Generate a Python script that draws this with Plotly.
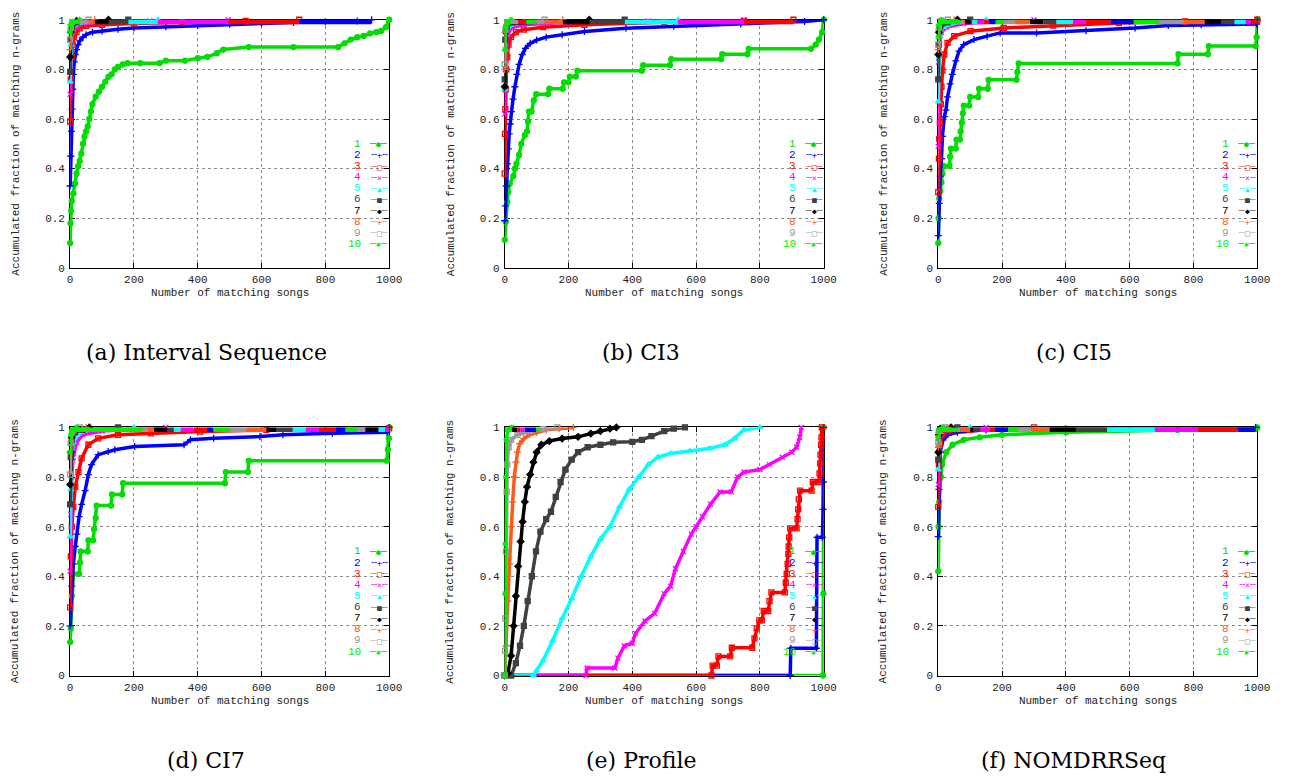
import plotly.graph_objects as go

# ---------------------------------------------------------------- metadata
SERIES = ["1", "2", "3", "4", "5", "6", "7", "8", "9", "10"]
COLORS = ["#00dd00", "#0000ff", "#ff0000", "#ff00ff", "#00ffff",
          "#404040", "#000000", "#ff5a1a", "#999999", "#00ee00"]
SYMBOLS = ["circle", "cross-thin", "square-open", "x-thin", "triangle-up",
           "square", "diamond", "cross-thin", "square-open", "asterisk"]
LEGEND_GLYPHS = ["●", "+", "□", "×", "▲", "■", "◆", "+", "□", "✱"]
LEGEND_DASH = ["─", "╌", "┈", "╌", "╌", "┈", "┈", "┈", "┈", "─"]

X_TICKS = [0, 200, 400, 600, 800, 1000]
X_TICK_TEXT = ["0", "200", "400", "600", "800", "1000"]
Y_TICKS = [0, 0.2, 0.4, 0.6, 0.8, 1.0]
Y_TICK_TEXT = ["0", "0.2", "0.4", "0.6", "0.8", "1"]
X_TITLE = "Number of matching songs"
Y_TITLE = "Accumulated fraction of matching n-grams"
CAPTIONS = ["(a) Interval Sequence", "(b) CI3", "(c) CI5",
            "(d) CI7", "(e) Profile", "(f) NOMDRRSeq"]
BAND_LEVEL = 1.0

# ---------------------------------------------------------------- (a) Interval Sequence
A_X = [
    [0, 1, 3, 5, 10, 15, 20, 25, 30, 35, 40, 45, 50, 55, 60, 65, 70, 80, 90, 100, 110, 120, 130, 140, 150,
     165, 180, 220, 280, 300, 360, 400, 430, 460, 480, 560, 700, 840, 860, 880, 900, 920, 940, 960, 975, 990, 1000],
    [0, 2, 4, 6, 8, 10, 13, 16, 20, 25, 30, 40, 50, 70, 100, 150, 200, 300, 400, 500, 600, 700, 800, 900, 945],
    [0, 2, 5, 8, 12, 20, 30, 50, 100, 200, 350, 550, 718],
    [0, 2, 5, 10, 20, 40, 100, 250, 496],
    [0, 2, 5, 15, 40, 275],
    [0, 2, 6, 20, 182],
    [0, 2, 6, 20, 120],
    [0, 2, 8, 77],
    [0, 2, 6, 58],
    [0, 2, 30],
]
A_Y = [
    [0.10, 0.18, 0.23, 0.27, 0.30, 0.34, 0.38, 0.41, 0.43, 0.46, 0.50, 0.53, 0.55, 0.57, 0.60, 0.63, 0.66, 0.69,
     0.71, 0.73, 0.75, 0.77, 0.78, 0.80, 0.81, 0.82, 0.825, 0.825, 0.825, 0.835, 0.835, 0.845, 0.85, 0.865, 0.88,
     0.89, 0.89, 0.89, 0.905, 0.92, 0.93, 0.935, 0.945, 0.95, 0.955, 0.97, 1.0],
    [0.33, 0.45, 0.55, 0.64, 0.72, 0.78, 0.83, 0.86, 0.88, 0.90, 0.915, 0.93, 0.94, 0.95, 0.955, 0.962, 0.967,
     0.972, 0.977, 0.982, 0.986, 0.989, 0.992, 0.995, 1.0],
    [0.59, 0.76, 0.85, 0.90, 0.93, 0.95, 0.965, 0.975, 0.98, 0.985, 0.99, 0.995, 1.0],
    [0.70, 0.85, 0.93, 0.96, 0.975, 0.985, 0.99, 0.995, 1.0],
    [0.75, 0.90, 0.95, 0.98, 0.99, 1.0],
    [0.79, 0.92, 0.97, 0.99, 1.0],
    [0.85, 0.95, 0.98, 0.995, 1.0],
    [0.88, 0.96, 0.99, 1.0],
    [0.92, 0.97, 0.99, 1.0],
    [0.95, 0.98, 1.0],
]
A_BAND = [[], [[718, 945]], [[496, 718]], [[275, 496]], [[182, 275]], [[120, 182]],
          [[77, 120]], [[58, 77]], [[30, 58]], [[0, 30]]]

# ---------------------------------------------------------------- (b) CI3
B_X = [
    [0, 3, 8, 11, 16, 27, 32, 37, 45, 52, 63, 70, 73, 76, 84, 91, 99, 136, 140, 182, 186, 200, 204, 223, 228,
     430, 434, 518, 522, 678, 682, 761, 765, 960, 975, 985, 995, 1000],
    [0, 2, 5, 8, 11, 14, 17, 21, 26, 32, 38, 45, 55, 65, 80, 100, 130, 180, 250, 380, 530, 740, 940, 1000],
    [0, 1, 2, 3, 5, 8, 12, 20, 35, 60, 120, 250, 500, 750, 905],
    [0, 2, 5, 12, 25, 60, 200, 450, 750],
    [0, 2, 6, 20, 60, 543],
    [0, 2, 6, 25, 376],
    [0, 3, 10, 265],
    [0, 2, 10, 182],
    [0, 2, 8, 125],
    [0, 2, 20],
]
B_Y = [
    [0.113, 0.185, 0.265, 0.305, 0.34, 0.37, 0.40, 0.42, 0.455, 0.50, 0.535, 0.55, 0.59, 0.63, 0.63, 0.675,
     0.70, 0.70, 0.722, 0.722, 0.748, 0.748, 0.771, 0.771, 0.795, 0.795, 0.817, 0.817, 0.841, 0.841, 0.861,
     0.861, 0.883, 0.883, 0.90, 0.92, 0.95, 1.0],
    [0.19, 0.25, 0.33, 0.42, 0.48, 0.54, 0.58, 0.63, 0.68, 0.73, 0.78, 0.82, 0.86, 0.885, 0.905, 0.918, 0.93,
     0.94, 0.953, 0.966, 0.974, 0.983, 0.993, 1.0],
    [0.38, 0.54, 0.64, 0.72, 0.80, 0.85, 0.90, 0.93, 0.95, 0.96, 0.97, 0.98, 0.99, 0.995, 1.0],
    [0.62, 0.80, 0.90, 0.95, 0.97, 0.98, 0.99, 0.995, 1.0],
    [0.72, 0.88, 0.95, 0.98, 0.99, 1.0],
    [0.76, 0.92, 0.97, 0.99, 1.0],
    [0.73, 0.95, 0.985, 1.0],
    [0.80, 0.95, 0.99, 1.0],
    [0.82, 0.96, 0.99, 1.0],
    [0.88, 0.97, 1.0],
]
B_BAND = [[], [], [[42, 68], [750, 905]], [[543, 750]], [[376, 543]], [[265, 376]],
          [[182, 265]], [[125, 182]], [[20, 42], [99, 125]], [[0, 20], [68, 99]]]

# ---------------------------------------------------------------- (c) CI5
C_X = [
    [0, 1, 3, 6, 10, 13, 16, 35, 37, 40, 55, 57, 68, 70, 74, 77, 80, 97, 100, 125, 128, 155, 158, 245, 248,
     252, 750, 753, 845, 848, 995, 998, 1000],
    [0, 3, 6, 10, 13, 19, 24, 29, 37, 44, 55, 65, 80, 112, 153, 194, 308, 463, 617, 721, 824, 998, 1000],
    [0, 2, 3, 5, 8, 10, 13, 19, 29, 50, 101, 205, 360, 566, 773, 1000],
    [0, 1, 4, 10, 25, 80, 300],
    [0, 2, 5, 15, 60, 150],
    [0, 2, 6, 30, 100],
    [0, 2, 10, 60],
    [0, 2, 10, 50],
    [0, 2, 10, 30],
    [0, 2, 10],
]
C_Y = [
    [0.10, 0.20, 0.28, 0.31, 0.345, 0.38, 0.411, 0.411, 0.448, 0.481, 0.481, 0.517, 0.517, 0.55, 0.585, 0.623,
     0.654, 0.654, 0.689, 0.689, 0.722, 0.722, 0.758, 0.758, 0.79, 0.824, 0.824, 0.861, 0.861, 0.894, 0.894,
     0.93, 1.0],
    [0.13, 0.26, 0.37, 0.44, 0.53, 0.61, 0.636, 0.689, 0.742, 0.78, 0.834, 0.874, 0.90, 0.92, 0.934, 0.947,
     0.947, 0.956, 0.967, 0.977, 0.98, 0.983, 1.0],
    [0.305, 0.44, 0.52, 0.585, 0.66, 0.73, 0.795, 0.86, 0.907, 0.934, 0.954, 0.967, 0.977, 0.987, 0.993, 1.0],
    [0.49, 0.83, 0.90, 0.95, 0.97, 0.985, 1.0],
    [0.67, 0.85, 0.94, 0.97, 0.99, 1.0],
    [0.76, 0.90, 0.97, 0.99, 1.0],
    [0.86, 0.95, 0.99, 1.0],
    [0.88, 0.96, 0.99, 1.0],
    [0.90, 0.97, 0.995, 1.0],
    [0.93, 0.98, 1.0],
]
C_BAND = [[], [[158, 180], [540, 613]], [[143, 158], [463, 540], [979, 1000]],
          [[122, 143], [421, 463], [964, 979]], [[106, 122], [370, 421], [928, 964]],
          [[101, 106], [329, 370], [886, 928]], [[84, 101], [287, 329], [835, 886]],
          [[80, 84], [241, 287], [770, 835]], [[70, 80], [205, 241], [690, 770]],
          [[0, 70], [180, 205], [613, 690]]]

# ---------------------------------------------------------------- (d) CI7
D_X = [
    [0, 2, 5, 10, 28, 31, 33, 55, 57, 72, 75, 80, 83, 128, 131, 163, 166, 485, 488, 557, 560, 993, 996, 999, 1000],
    [0, 5, 10, 16, 21, 28, 36, 47, 57, 67, 88, 119, 140, 202, 357, 377, 450, 595, 667, 822, 993, 1000],
    [0, 2, 5, 10, 16, 26, 36, 57, 88, 150, 253, 408, 615, 1000],
    [0, 2, 5, 10, 20, 40, 100, 300],
    [0, 2, 5, 10, 25, 60, 200],
    [0, 2, 5, 15, 40, 150],
    [0, 2, 5, 15, 60],
    [0, 2, 6, 20, 50],
    [0, 2, 6, 30],
    [0, 2, 6, 20],
]
D_Y = [
    [0.135, 0.19, 0.32, 0.41, 0.41, 0.455, 0.50, 0.50, 0.545, 0.545, 0.59, 0.635, 0.685, 0.685, 0.73, 0.73,
     0.775, 0.775, 0.82, 0.82, 0.866, 0.866, 0.91, 0.956, 1.0],
    [0.20, 0.36, 0.45, 0.52, 0.57, 0.64, 0.69, 0.745, 0.81, 0.85, 0.89, 0.903, 0.91, 0.923, 0.93, 0.95, 0.956,
     0.963, 0.97, 0.976, 0.98, 1.0],
    [0.275, 0.48, 0.60, 0.68, 0.76, 0.82, 0.875, 0.93, 0.956, 0.97, 0.976, 0.983, 0.99, 0.996],
    [0.42, 0.65, 0.80, 0.88, 0.94, 0.97, 0.985, 1.0],
    [0.56, 0.75, 0.88, 0.94, 0.975, 0.99, 1.0],
    [0.69, 0.88, 0.95, 0.98, 0.99, 1.0],
    [0.77, 0.90, 0.96, 0.985, 1.0],
    [0.82, 0.93, 0.975, 0.99, 1.0],
    [0.81, 0.94, 0.98, 1.0],
    [0.90, 0.97, 0.99, 1.0],
]
D_BAND = [[], [[429, 449], [832, 863]], [[387, 429], [780, 832]],
          [[346, 387], [739, 780], [987, 1000]], [[325, 346], [697, 739], [966, 987]],
          [[305, 325], [646, 697]], [[263, 305], [615, 646], [925, 966]],
          [[243, 263], [553, 615]], [[227, 243], [501, 553], [899, 925]],
          [[0, 227], [449, 501], [863, 899]]]

# ---------------------------------------------------------------- (e) Profile
E_X = [
    [0, 998, 999, 1000],
    [0, 895, 897, 977, 979, 996, 998, 999, 1000],
    [0, 648, 652, 665, 670, 707, 712, 776, 783, 790, 798, 806, 812, 826, 830, 836, 878, 881, 884, 887, 889, 890,
     892, 895, 915, 918, 920, 922, 926, 962, 966, 985, 987, 989, 990, 992, 993, 994],
    [0, 255, 258, 345, 355, 375, 400, 410, 440, 470, 500, 520, 535, 560, 585, 600, 620, 645, 675, 710, 730, 750,
     800, 830, 870, 900, 915, 925, 930],
    [0, 90, 100, 120, 150, 180, 210, 240, 270, 300, 330, 360, 390, 420, 450, 480, 520, 580, 640, 690, 720, 750, 800],
    [0, 20, 35, 48, 60, 72, 85, 98, 112, 130, 145, 160, 175, 190, 210, 230, 260, 300, 340, 400, 430, 460, 500,
     530, 565],
    [0, 10, 20, 28, 35, 42, 50, 56, 63, 70, 80, 90, 100, 115, 140, 180, 230, 270, 300, 330, 350],
    [0, 5, 10, 15, 20, 25, 30, 35, 40, 47, 60, 78, 100, 130, 170, 215],
    [0, 1, 2, 4, 6, 8, 12, 20, 40, 80, 120, 165],
    [0, 1, 2, 3, 5, 10, 22],
]
E_Y = [
    [0, 0, 0.33, 1.0],
    [0, 0, 0.11, 0.11, 0.557, 0.557, 0.67, 0.78, 1.0],
    [0, 0, 0.04, 0.04, 0.077, 0.077, 0.112, 0.112, 0.15, 0.19, 0.222, 0.222, 0.26, 0.26, 0.30, 0.335, 0.335,
     0.374, 0.41, 0.45, 0.49, 0.52, 0.557, 0.593, 0.593, 0.63, 0.67, 0.71, 0.745, 0.745, 0.78, 0.78, 0.815,
     0.855, 0.89, 0.93, 0.96, 1.0],
    [0, 0, 0.03, 0.03, 0.07, 0.12, 0.13, 0.17, 0.22, 0.25, 0.33, 0.36, 0.43, 0.50, 0.57, 0.60, 0.64, 0.69,
     0.74, 0.74, 0.80, 0.82, 0.83, 0.85, 0.88, 0.90, 0.92, 0.96, 1.0],
    [0, 0, 0.02, 0.06, 0.14, 0.23, 0.31, 0.40, 0.48, 0.55, 0.60, 0.68, 0.75, 0.80, 0.85, 0.88, 0.895, 0.905,
     0.915, 0.93, 0.955, 0.99, 1.0],
    [0, 0, 0.05, 0.12, 0.20, 0.30, 0.40, 0.50, 0.58, 0.63, 0.66, 0.72, 0.78, 0.83, 0.87, 0.90, 0.92, 0.93,
     0.94, 0.942, 0.95, 0.965, 0.985, 0.995, 1.0],
    [0, 0.01, 0.08, 0.20, 0.32, 0.44, 0.54, 0.62, 0.70, 0.76, 0.81, 0.86, 0.90, 0.93, 0.945, 0.955, 0.962,
     0.975, 0.985, 0.995, 1.0],
    [0, 0.12, 0.30, 0.45, 0.60, 0.70, 0.80, 0.86, 0.90, 0.935, 0.955, 0.97, 0.98, 0.99, 0.995, 1.0],
    [0, 0.10, 0.23, 0.50, 0.74, 0.85, 0.92, 0.95, 0.97, 0.985, 0.993, 1.0],
    [0, 0.33, 0.53, 0.80, 0.95, 0.99, 1.0],
]
E_BAND = [[], [[62, 99]], [[40, 50]], [[50, 62]], [], [], [[22, 40]], [], [], [[0, 22], [99, 110]]]

# ---------------------------------------------------------------- (f) NOMDRRSeq
F_X = [
    [0, 1, 3, 8, 12, 25, 45, 80, 130, 200, 400, 750, 1000],
    [0, 2, 6, 15, 30, 60, 150, 400, 995],
    [0, 2, 5, 12, 30, 100, 300],
    [0, 2, 6, 20, 150],
    [0, 2, 6, 20, 100],
    [0, 2, 6, 60],
    [0, 2, 6, 40],
    [0, 2, 30],
    [0, 2, 20],
    [0, 2, 15],
]
F_Y = [
    [0.42, 0.60, 0.70, 0.80, 0.85, 0.90, 0.93, 0.95, 0.96, 0.97, 0.98, 0.99, 1.0],
    [0.56, 0.75, 0.90, 0.95, 0.97, 0.98, 0.99, 0.995, 1.0],
    [0.68, 0.85, 0.93, 0.97, 0.985, 0.99, 1.0],
    [0.77, 0.92, 0.97, 0.99, 1.0],
    [0.83, 0.94, 0.98, 0.995, 1.0],
    [0.87, 0.96, 0.99, 1.0],
    [0.90, 0.97, 0.995, 1.0],
    [0.92, 0.98, 1.0],
    [0.94, 0.985, 1.0],
    [0.96, 0.99, 1.0],
]
F_BAND = [[[995, 1000]], [[178, 219], [938, 995]], [[162, 178], [814, 938]],
          [[131, 162], [679, 814]], [[529, 679]], [[110, 131], [431, 529]],
          [[100, 110], [349, 431]], [[69, 100], [292, 349]], [[59, 69], [250, 292]],
          [[0, 59], [219, 250]]]

PANELS = [(A_X, A_Y, A_BAND), (B_X, B_Y, B_BAND), (C_X, C_Y, C_BAND),
          (D_X, D_Y, D_BAND), (E_X, E_Y, E_BAND), (F_X, F_Y, F_BAND)]

# ---------------------------------------------------------------- layout geometry (pixels)
W, H = 1292, 780
PLOT_W, PLOT_H = 323, 252
LEFTS = [68, 508, 947]
TOPS = [15, 429]
CAPTION_X = [206, 646, 1084]
CAPTION_Y = [353, 767]
MONO = "Liberation Mono, DejaVu Sans Mono, monospace"
SERIF = "DejaVu Serif, serif"

fig = go.Figure()
layout = dict(width=W, height=H, margin=dict(l=0, r=0, t=0, b=0),
              paper_bgcolor="white", plot_bgcolor="white", showlegend=False)
annotations = []

for k, (PX, PY, PB) in enumerate(PANELS):
    row, col = divmod(k, 3)
    sfx = "" if k == 0 else str(k + 1)
    xa, ya = "x" + sfx, "y" + sfx
    left, top = LEFTS[col], TOPS[row]
    xdom = [left / W, (left + PLOT_W) / W]
    ydom = [1 - (top + PLOT_H) / H, 1 - top / H]
    axis_common = dict(showline=True, linecolor="black", linewidth=1, mirror="ticks",
                       ticks="inside", ticklen=5, tickcolor="black", showgrid=True,
                       gridcolor="#8a8a8a", griddash="dot", gridwidth=1, zeroline=False,
                       tickfont=dict(family=MONO, size=11, color="#222"), layer="below traces")
    layout["xaxis" + sfx] = dict(axis_common, domain=xdom, range=[0, 1000], anchor=ya,
                                 tickvals=X_TICKS, ticktext=X_TICK_TEXT, ticklabelstandoff=1)
    layout["yaxis" + sfx] = dict(axis_common, domain=ydom, range=[0, 1], anchor=xa,
                                 tickvals=Y_TICKS, ticktext=Y_TICK_TEXT, ticklabelstandoff=2)

    # curves
    for i in range(10):
        fig.add_trace(go.Scatter(
            x=PX[i], y=PY[i], xaxis=xa, yaxis=ya, mode="lines+markers", name=SERIES[i],
            line=dict(color=COLORS[i], width=3.5),
            marker=dict(symbol=SYMBOLS[i], size=5, color=COLORS[i],
                        line=dict(color=COLORS[i], width=1.3)),
            cliponaxis=False, hoverinfo="skip"))
    # plateau bands at the top
    for i in range(10):
        if not PB[i]:
            continue
        bx, by = [], []
        for s, e in PB[i]:
            bx += [s, e, None]
            by += [BAND_LEVEL, BAND_LEVEL, None]
        fig.add_trace(go.Scatter(x=bx, y=by, xaxis=xa, yaxis=ya, mode="lines",
                                 line=dict(color=COLORS[i], width=9), connectgaps=False,
                                 hoverinfo="skip"))

    # legend (text-based, inside the plot)
    for i in range(10):
        yy = 0.5 - i * 0.0448
        annotations.append(dict(xref=xa + " domain", yref=ya + " domain", x=0.916, y=yy,
                                xanchor="right", yanchor="middle", showarrow=False, borderpad=0,
                                text=SERIES[i], font=dict(family=MONO, size=11, color=COLORS[i])))
        annotations.append(dict(xref=xa + " domain", yref=ya + " domain", x=1.0, y=yy,
                                xanchor="right", yanchor="middle", showarrow=False, borderpad=0,
                                text=LEGEND_DASH[i] + "<span style='font-size:8px'>" + LEGEND_GLYPHS[i]
                                     + "</span>" + LEGEND_DASH[i],
                                font=dict(family="DejaVu Sans Mono", size=10, color=COLORS[i])))
    # axis titles
    annotations.append(dict(xref=xa + " domain", yref=ya + " domain", x=0.5, y=-26 / PLOT_H,
                            xanchor="center", yanchor="middle", showarrow=False, text=X_TITLE,
                            borderpad=0, font=dict(family=MONO, size=11, color="#222")))
    annotations.append(dict(xref=xa + " domain", yref=ya + " domain", x=-55 / PLOT_W, y=0.5,
                            xanchor="center", yanchor="middle", showarrow=False, text=Y_TITLE,
                            textangle=-90, borderpad=0, font=dict(family=MONO, size=11, color="#222")))
    # caption
    annotations.append(dict(xref="paper", yref="paper", x=CAPTION_X[col] / W,
                            y=1 - CAPTION_Y[row] / H, xanchor="center", yanchor="middle",
                            showarrow=False, text=CAPTIONS[k],
                            font=dict(family=SERIF, size=22, color="black")))

layout["annotations"] = annotations
fig.update_layout(**layout)
fig.write_html("out.html")
